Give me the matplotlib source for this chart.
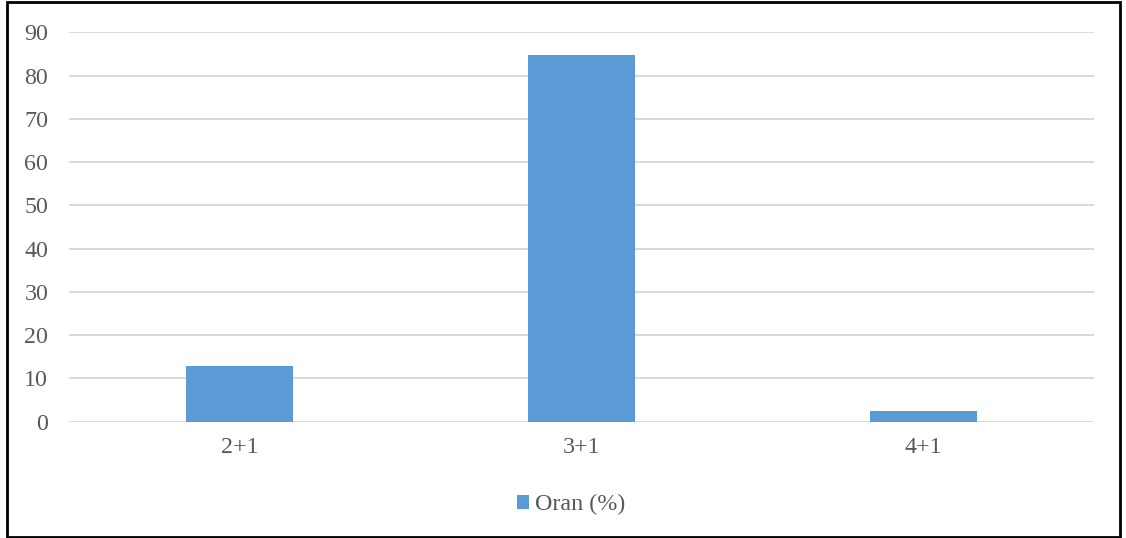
import matplotlib.pyplot as plt
from matplotlib.patches import Rectangle

categories = ['2+1', '3+1', '4+1']
oran = [12.8, 84.7, 2.5]
yticks = [0, 10, 20, 30, 40, 50, 60, 70, 80, 90]

plt.rcParams['font.family'] = ['Liberation Serif', 'DejaVu Serif']

fig = plt.figure(figsize=(11.26, 5.38), dpi=100)
ax = fig.add_axes([0.0613, 0.2162, 0.9103, 0.7238])

x = range(len(categories))
ax.bar(x, oran, width=0.313, color='#5b9bd5', label='Oran (%)', zorder=3)

ax.set_xlim(-0.5, 2.5)
ax.set_ylim(0, 90)
ax.set_yticks(yticks)
ax.set_xticks(list(x))
ax.set_xticklabels(categories)
ax.tick_params(axis='both', length=0, labelsize=17.3, colors='#595959')
ax.tick_params(axis='y', pad=15)
ax.tick_params(axis='x', pad=11)

ax.grid(True, axis='y', color='#d9d9d9', linewidth=1.4, zorder=0)
for s in ax.spines.values():
    s.set_visible(False)

leg = fig.legend(loc='center', bbox_to_anchor=(0.507, 0.062), frameon=False,
                 fontsize=17.3, handlelength=0.5, handleheight=0.5,
                 handletextpad=0.25)
for t in leg.get_texts():
    t.set_color('#595959')

# outer frame around the whole chart
fig.patches.append(Rectangle((0.006, 0.002), 0.989, 0.995, transform=fig.transFigure,
                             fill=False, edgecolor='black', linewidth=2))

fig.savefig('out.png', dpi=100)
